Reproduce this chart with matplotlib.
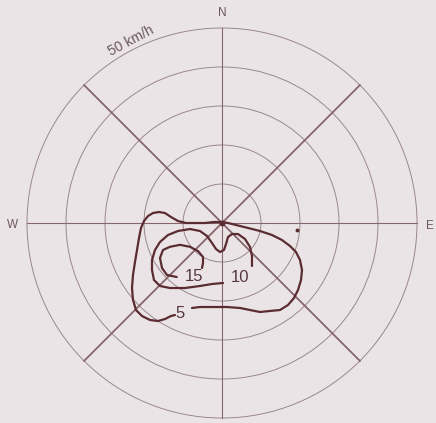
"""
Rose des vents : fréquence (%) par direction et vitesse du vent,
isolignes 5 / 10 / 15 sur grille polaire (anneaux tous les 10 km/h).
"""

import numpy as np
import matplotlib.pyplot as plt
from matplotlib.patches import Circle


# ── Données (composantes est / nord en km/h) ─────────────────────────────────

ring_speeds = [10, 20, 30, 40, 50]
spoke_angles = [0, 45, 90, 135, 180, 225, 270, 315]   # degrés depuis l'est

iso5_x = [-7.69, -5.64, -2.31, 1.28, 4.62, 7.18, 9.74, 12.31, 14.87, 16.92,
          18.46, 19.49, 20.26, 20.51, 20.0, 18.97, 17.44, 15.38, 12.82, 9.74,
          6.67, 3.59, 1.54, 0.0, -2.05, -4.36, -6.92, -9.23, -11.28, -13.08,
          -14.62, -16.15, -17.69, -18.97, -20.0, -20.77, -21.28, -21.79, -22.31,
          -22.82, -23.08, -22.82, -22.05, -20.51, -18.46, -16.41, -14.62,
          -13.08, -12.05]
iso5_y = [-21.79, -21.54, -21.54, -21.54, -21.79, -22.31, -22.82, -22.56,
          -22.31, -21.03, -19.23, -17.18, -14.62, -12.05, -9.49, -7.44, -5.90,
          -4.36, -3.08, -2.05, -1.28, -0.51, 0.0, 0.26, 0.26, 0.0, 0.0, 0.0,
          0.51, 1.54, 2.56, 2.82, 2.56, 1.79, 0.51, -1.28, -3.85, -6.92, -10.0,
          -13.33, -16.67, -19.74, -22.31, -23.85, -24.87, -25.13, -24.62,
          -23.85, -23.59]

iso10_x = [0.26, -2.56, -5.64, -9.49, -13.33, -15.90, -17.44, -17.95, -17.95,
           -17.18, -15.90, -13.85, -11.28, -8.21, -5.64, -3.85, -2.56, -1.54,
           -0.51, 0.51, 1.03, 1.54, 2.56, 4.10, 5.90, 7.18, 7.69, 7.69]
iso10_y = [-15.38, -15.64, -16.15, -16.67, -16.67, -16.15, -14.62, -12.05,
           -9.49, -6.92, -4.87, -3.08, -2.05, -1.54, -2.05, -3.33, -5.13, -6.67,
           -7.44, -6.92, -5.38, -3.59, -2.82, -2.82, -4.10, -6.15, -8.46, -11.03]

iso15_x = [-11.6, -14.10, -15.38, -15.90, -15.13, -13.33, -10.77, -8.21,
           -6.15, -4.87, -4.87, -5.13]
iso15_y = [-13.85, -13.33, -11.54, -8.97, -6.92, -6.10, -5.60, -6.10,
           -7.20, -8.72, -10.26, -11.54]

iso_labels = ['15', '10', '5']
iso_label_x = [-7.2, 4.6, -10.8]
iso_label_y = [-13.8, -14.1, -23.2]

compass = ['N', 'W', 'E']
compass_x = [0.0, -53.8, 53.4]
compass_y = [53.9, -0.5, -0.8]

speed_label = '50 km/h'


# ── Figure ────────────────────────────────────────────────────────────────────

bg = '#ebe4e6'
grid_c = '#9a878d'
spoke_c = '#86656d'
iso_c = '#5a2c32'
txt_c = '#6a585e'
font = ['Liberation Sans', 'DejaVu Sans']

fig = plt.figure(figsize=(4.36, 4.23), dpi=100, facecolor=bg)
ax = fig.add_axes([0, 0, 1, 1])
ax.set_facecolor(bg)
ax.set_xlim(-56.92, 54.87)
ax.set_ylim(-51.28, 57.18)
ax.set_aspect('equal')
ax.axis('off')

# anneaux de vitesse
for r in ring_speeds:
    ax.add_patch(Circle((0, 0), r, fill=False, edgecolor=grid_c, linewidth=0.7))

# rayons : diagonales plus épaisses
R = ring_speeds[-1]
for a in spoke_angles:
    t = np.deg2rad(a)
    lw = 1.3 if a % 90 else 0.8
    ax.plot([0, R * np.cos(t)], [0, R * np.sin(t)], color=spoke_c, linewidth=lw)

# isolignes
for xs, ys in [(iso5_x, iso5_y), (iso10_x, iso10_y), (iso15_x, iso15_y)]:
    ax.plot(xs, ys, color=iso_c, linewidth=1.6,
            solid_capstyle='round', solid_joinstyle='round')
ax.plot([0], [0], 'o', color=iso_c, markersize=3.2)
ax.plot([19.2], [-1.8], 'o', color=iso_c, markersize=1.8)

for lab, x, y in zip(iso_labels, iso_label_x, iso_label_y):
    ax.text(x, y, lab, fontsize=12, color='#55383e', ha='center', va='center',
            family=font)

for lab, x, y in zip(compass, compass_x, compass_y):
    ax.text(x, y, lab, fontsize=8.5, color=txt_c, ha='center', va='center',
            family=font)

ax.text(-23.4, 46.6, speed_label, fontsize=10, color=txt_c, rotation=28,
        ha='center', va='center', family=font)

fig.savefig('out.png', dpi=100, facecolor=bg)
